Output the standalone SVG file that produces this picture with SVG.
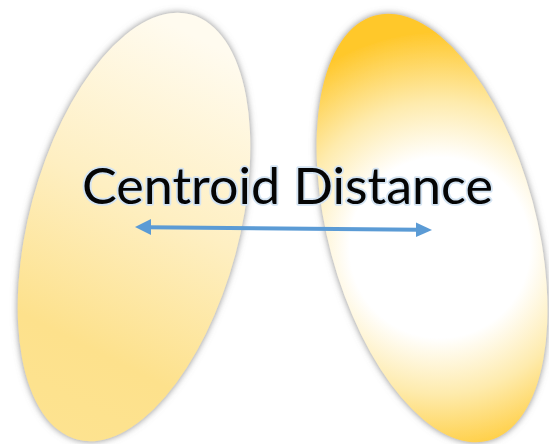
<svg xmlns="http://www.w3.org/2000/svg" width="549" height="444" viewBox="0 0 549 444">
  <style>
    .blob { filter: url(#softShadow); }
    .label { font-family: "Lato", "DejaVu Sans", sans-serif; font-size: 50px; fill: #050505; }
    .halo { stroke: #d4e4f3; stroke-width: 3.5; stroke-linejoin: round; fill: #d4e4f3; }
    .link { stroke: #5b9bd5; stroke-width: 4; fill: none; }
    .tip { fill: #5b9bd5; }
  </style>
  <defs>
    <filter id="softShadow" x="-20%" y="-20%" width="140%" height="140%">
      <feGaussianBlur in="SourceAlpha" stdDeviation="3.5" result="b"/>
      <feFlood flood-color="#6f6f6f" flood-opacity="0.8"/>
      <feComposite in2="b" operator="in" result="s"/>
      <feMerge>
        <feMergeNode in="s"/>
        <feMergeNode in="SourceGraphic"/>
      </feMerge>
    </filter>
    <linearGradient id="leftFill" x1="0.1" y1="0" x2="0" y2="1">
      <stop offset="0" stop-color="#fffbef"/>
      <stop offset="0.4" stop-color="#feefc2"/>
      <stop offset="0.75" stop-color="#fde18c"/>
      <stop offset="1" stop-color="#fde390"/>
    </linearGradient>
    <!-- bright core sits just below the centre of the right cluster -->
    <radialGradient id="rightFill" gradientUnits="userSpaceOnUse" cx="2.5" cy="21" r="215">
      <stop offset="0" stop-color="#ffffff"/>
      <stop offset="0.42" stop-color="#ffffff"/>
      <stop offset="0.68" stop-color="#feebad"/>
      <stop offset="1" stop-color="#ffc82c"/>
    </radialGradient>
  </defs>

  <rect width="549" height="444" fill="#ffffff"/>

  <g id="cluster-left" class="blob">
    <ellipse cx="0" cy="0" rx="105" ry="220" transform="translate(134 227) rotate(15)" fill="url(#leftFill)"/>
  </g>

  <g id="cluster-right" class="blob">
    <ellipse cx="0" cy="0" rx="104" ry="220" transform="translate(432 228) rotate(-15)" fill="url(#rightFill)"/>
  </g>

  <g id="connectors">
    <line class="link" x1="148" y1="227.2" x2="418" y2="229.8"/>
    <polygon class="tip" points="135,227 151,219 151,235"/>
    <polygon class="tip" points="432,230 416,222.5 416,237"/>
  </g>

  <g id="title">
    <text class="label halo" x="82" y="204" textLength="411" lengthAdjust="spacingAndGlyphs">Centroid Distance</text>
    <text class="label" x="82" y="204" textLength="411" lengthAdjust="spacingAndGlyphs">Centroid Distance</text>
  </g>
</svg>
